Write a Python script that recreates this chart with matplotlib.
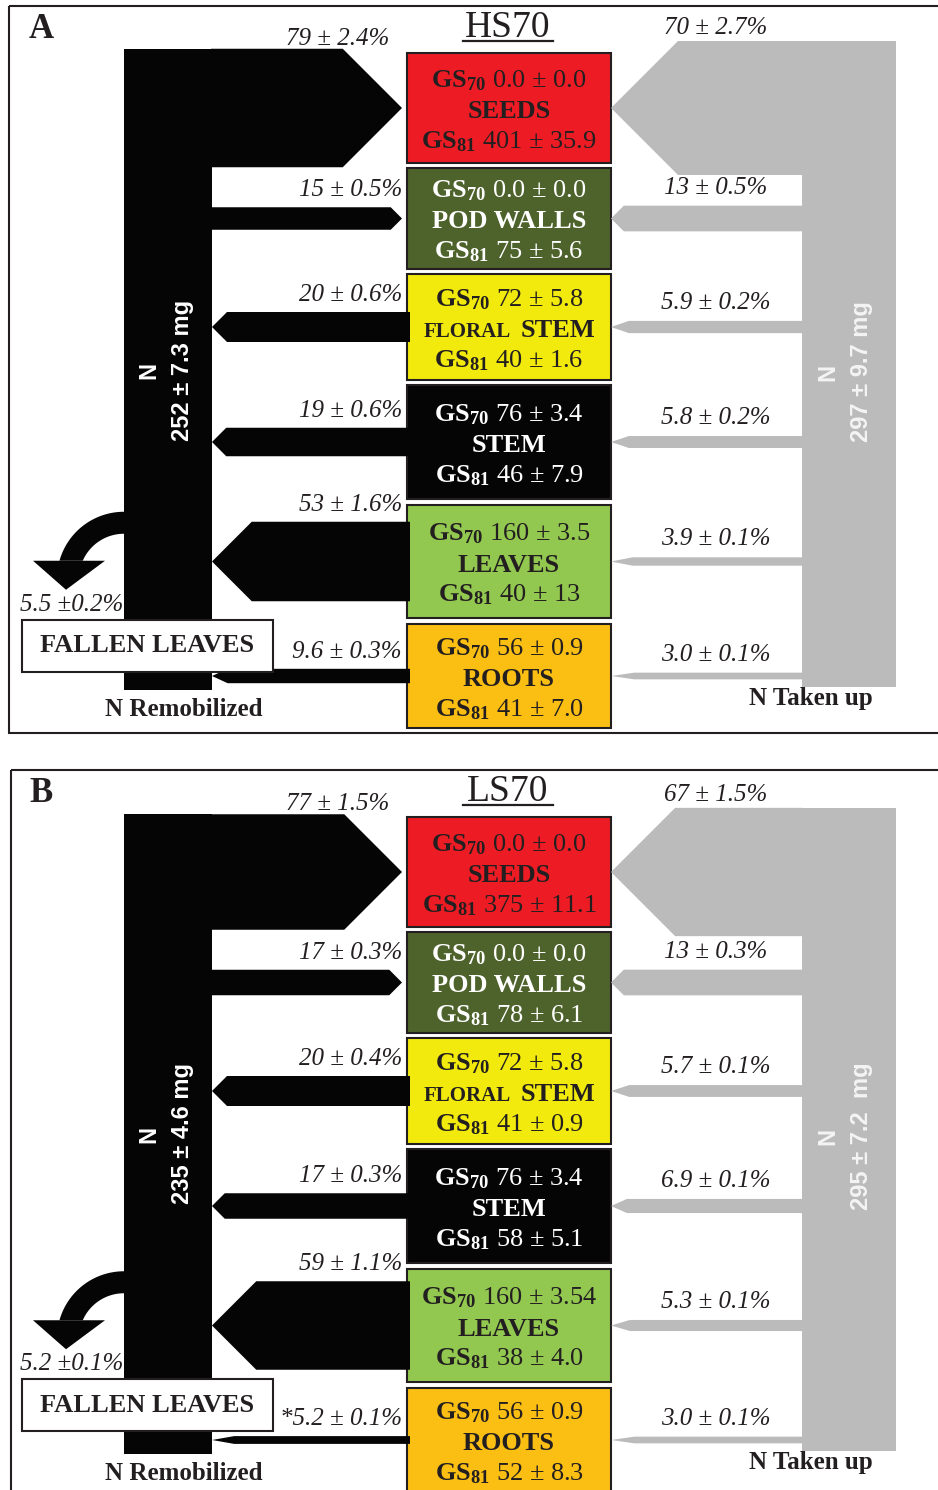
import numpy as np
import matplotlib
matplotlib.use("Agg")
import matplotlib.pyplot as plt
from matplotlib.patches import Polygon, Rectangle

plt.rcParams["font.family"] = ["Liberation Serif", "DejaVu Serif"]
plt.rcParams["mathtext.fontset"] = "custom"
plt.rcParams["mathtext.rm"] = "Liberation Serif"
plt.rcParams["mathtext.it"] = "Liberation Serif:italic"
plt.rcParams["mathtext.bf"] = "Liberation Serif:bold"

# ---- data ----
organs = ["SEEDS", "POD WALLS", "FLORAL STEM", "STEM", "LEAVES", "ROOTS"]
is_sink = [True, True, False, False, False, False]
panel_letters = ["A", "B"]
treatments = ["HS70", "LS70"]

# N content (mg) at GS70 and GS81
gs70_hs = ["0.0 ± 0.0", "0.0 ± 0.0", "72 ± 5.8", "76 ± 3.4", "160 ± 3.5", "56 ± 0.9"]
gs81_hs = ["401 ± 35.9", "75 ± 5.6", "40 ± 1.6", "46 ± 7.9", "40 ± 13", "41 ± 7.0"]
gs70_ls = ["0.0 ± 0.0", "0.0 ± 0.0", "72 ± 5.8", "76 ± 3.4", "160 ± 3.54", "56 ± 0.9"]
gs81_ls = ["375 ± 11.1", "78 ± 6.1", "41 ± 0.9", "58 ± 5.1", "38 ± 4.0", "52 ± 8.3"]

# remobilized N (%)
remob_hs = [79, 15, 20, 19, 53, 9.6]
remob_sd_hs = [2.4, 0.5, 0.6, 0.6, 1.6, 0.3]
remob_ls = [77, 17, 20, 17, 59, 5.2]
remob_sd_ls = [1.5, 0.3, 0.4, 0.3, 1.1, 0.1]
remob_note_hs = ["", "", "", "", "", ""]
remob_note_ls = ["", "", "", "", "", "*"]

# N taken up (%)
uptake_hs = [70, 13, 5.9, 5.8, 3.9, 3.0]
uptake_sd_hs = [2.7, 0.5, 0.2, 0.2, 0.1, 0.1]
uptake_ls = [67, 13, 5.7, 6.9, 5.3, 3.0]
uptake_sd_ls = [1.5, 0.3, 0.1, 0.1, 0.1, 0.1]

# lost with fallen leaves (%)
fallen = [5.5, 5.2]
fallen_sd = [0.2, 0.1]

remob_total = ["252 ± 7.3 mg", "235 ± 4.6 mg"]
uptake_total = ["297 ± 9.7 mg", "295 ± 7.2  mg"]

# ---- style / layout ----
box_colors = ["#ED1C24", "#4E622B", "#F2EA0D", "#050505", "#92C850", "#FBBF14"]
txt_colors = ["#231f20", "white", "#231f20", "white", "#231f20", "#231f20"]
DARK = "#231f20"
BLACK = "#050505"
GRAY = "#bbbbbb"
box_top = np.array([53, 168, 274, 385, 505, 624])
box_bot = np.array([163, 269, 380, 499, 618, 728])
BOX_L, BOX_R = 407, 611
BCOL_L, BCOL_R = 124, 212
GCOL_L, GCOL_R = 802, 896


def fmt(v, sd, sep=" "):
    vs = f"{v:.1f}" if v < 10 else f"{v:.0f}"
    return f"{vs} ±{sep}{sd:.1f}%"


def arrow(x_base, x_tip, yc, w):
    # straight block arrow with a 45 degree chevron head
    hl = max(w / 2, 30 - w)
    d = 1 if x_tip > x_base else -1
    xh = x_tip - d * hl
    return [(x_base, yc - w / 2), (xh, yc - w / 2), (x_tip, yc),
            (xh, yc + w / 2), (x_base, yc + w / 2)]


fig = plt.figure(figsize=(9.38, 14.9), dpi=100)
ax = fig.add_axes([0, 0, 1, 1])
ax.set_xlim(0, 938)
ax.set_ylim(1490, 0)
ax.axis("off")


def draw_panel(k, y0, gs70, gs81, remob, remob_sd, notes, uptake, uptake_sd):
    frame_x = [9, 11][k]
    ax.add_patch(Rectangle((frame_x, y0 + 6), 960, 727 if k == 0 else 800,
                           fill=False, ec=DARK, lw=1.5, zorder=1))
    ax.text(41, y0 + 38, panel_letters[k], ha="center", va="baseline",
            fontsize=25, fontweight="bold", color=DARK)
    ax.text(508, y0 + 37, treatments[k], ha="center", va="baseline",
            fontsize=27, color=DARK)
    ax.plot([463, 553], [y0 + 41, y0 + 41], color=DARK, lw=1.6)

    yc = y0 + (box_top + box_bot) / 2
    wb = 1.5 * np.array(remob)
    wg = 1.0 + 1.9 * np.array(uptake)

    # columns
    ax.add_patch(Rectangle((BCOL_L, yc[0] - wb[0] / 2), BCOL_R - BCOL_L,
                           y0 + 690 - (yc[0] - wb[0] / 2), fc=BLACK, lw=0, zorder=3))
    ax.add_patch(Rectangle((GCOL_L, yc[0] - wg[0] / 2), GCOL_R - GCOL_L,
                           y0 + 687 - (yc[0] - wg[0] / 2), fc=GRAY, lw=0, zorder=3))

    for i in range(len(organs)):
        top, bot = y0 + box_top[i], y0 + box_bot[i]
        ax.add_patch(Rectangle((BOX_L, top), BOX_R - BOX_L, bot - top,
                               fc=box_colors[i], ec=DARK, lw=1.5, zorder=2))
        tc = txt_colors[i]
        ax.text(509, yc[i] - 30 + 9, r"$\mathbf{GS_{70}}$ " + gs70[i],
                ha="center", va="baseline", fontsize=19, color=tc, zorder=5)
        ax.text(509, yc[i] + 31 + 9, r"$\mathbf{GS_{81}}$ " + gs81[i],
                ha="center", va="baseline", fontsize=19, color=tc, zorder=5)
        if organs[i] == "FLORAL STEM":
            ax.text(511, yc[i] + 1 + 9, "FLORAL", ha="right", va="baseline",
                    fontsize=15, fontweight="bold", color=tc, zorder=5)
            ax.text(521, yc[i] + 1 + 9, "STEM", ha="left", va="baseline",
                    fontsize=19, fontweight="bold", color=tc, zorder=5)
        else:
            ax.text(509, yc[i] + 1 + 9, organs[i], ha="center", va="baseline",
                    fontsize=19, fontweight="bold", color=tc, zorder=5)

        # remobilized flow
        if is_sink[i]:
            pts = arrow(BCOL_R - 1, 402, yc[i], wb[i])
        else:
            pts = arrow(410, BCOL_R, yc[i], wb[i])
        ax.add_patch(Polygon(pts, closed=True, fc=BLACK, lw=0, zorder=4))
        lx = 389 if i == 0 else 402
        dy = 10 if i == 0 else 17
        ax.text(lx, yc[i] - wb[i] / 2 - dy, notes[i] + fmt(remob[i], remob_sd[i]),
                ha="right", va="center", fontsize=18, style="italic", color=DARK)

        # uptake flow
        pts = arrow(GCOL_L + 1, BOX_R, yc[i], wg[i])
        ax.add_patch(Polygon(pts, closed=True, fc=GRAY, lw=0, zorder=4))
        dy = 13 if i == 0 else 18
        ax.text(716, yc[i] - wg[i] / 2 - dy, fmt(uptake[i], uptake_sd[i]),
                ha="center", va="center", fontsize=18, style="italic", color=DARK)

    # column labels
    ax.text(166, y0 + 370, "N\n" + remob_total[k], rotation=90, ha="center",
            va="center", multialignment="center", family="Liberation Sans",
            fontweight="bold", fontsize=17, color="white", linespacing=1.6, zorder=6)
    ax.text(845, y0 + 372, "N\n" + uptake_total[k], rotation=90, ha="center",
            va="center", multialignment="center", family="Liberation Sans",
            fontweight="bold", fontsize=17, color="#f4f4f4", linespacing=1.6, zorder=6)
    ax.text(184, y0 + 710, "N Remobilized", ha="center", va="center",
            fontsize=18, fontweight="bold", color=DARK)
    ax.text(811, y0 + 699, "N Taken up", ha="center", va="center",
            fontsize=18, fontweight="bold", color=DARK)

    # fallen leaves: curved arrow off the leaves flow
    top = yc[4] - wb[4] / 2 - 10
    base = top + 49
    tip = base + 29
    cx, cy = BCOL_L, top + 67
    r_out, r_in = 67, 45
    t_out = np.arccos((r_out - 49) / r_out)
    t_in = np.arccos((r_in - 27) / r_in)
    to = np.linspace(0, t_out, 30)
    ti = np.linspace(t_in, 0, 30)
    shaft = np.vstack([
        np.column_stack([cx - r_out * np.sin(to), cy - r_out * np.cos(to)]),
        np.column_stack([cx - r_in * np.sin(ti), cy - r_in * np.cos(ti)]),
        [[cx + 2, cy - r_in], [cx + 2, cy - r_out]],
    ])
    ax.add_patch(Polygon(shaft, closed=True, fc=BLACK, lw=0, zorder=4))
    head = [(BCOL_L - 91, base), (BCOL_L - 19, base), (BCOL_L - 58, tip)]
    ax.add_patch(Polygon(head, closed=True, fc=BLACK, lw=0, zorder=4))
    ax.text(123, tip + 15, fmt(fallen[k], fallen_sd[k], sep=""), ha="right",
            va="center", fontsize=18, style="italic", color=DARK)
    ax.add_patch(Rectangle((22, tip + 30), 251, 52, fc="white", ec=DARK,
                           lw=1.5, zorder=6))
    ax.text(147, tip + 56, "FALLEN LEAVES", ha="center", va="center",
            fontsize=19, fontweight="bold", color=DARK, zorder=7)


draw_panel(0, 0, gs70_hs, gs81_hs, remob_hs, remob_sd_hs, remob_note_hs,
           uptake_hs, uptake_sd_hs)
draw_panel(1, 764, gs70_ls, gs81_ls, remob_ls, remob_sd_ls, remob_note_ls,
           uptake_ls, uptake_sd_ls)

fig.savefig("out.png", dpi=100, facecolor="white")
